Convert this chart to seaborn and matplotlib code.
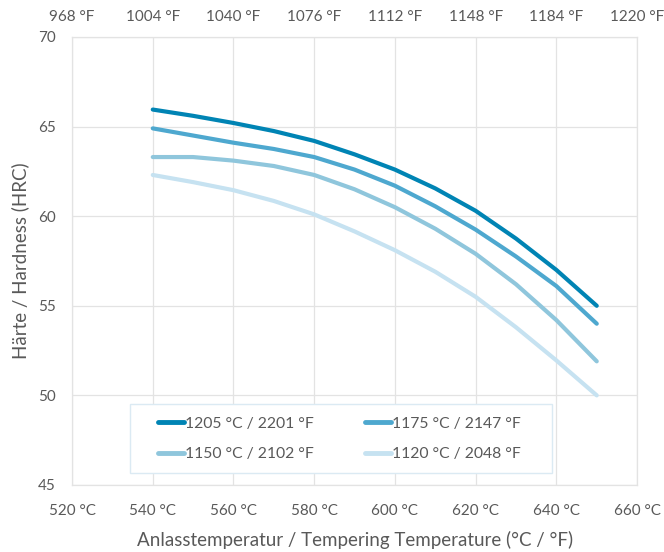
import matplotlib.pyplot as plt
import pandas as pd
import seaborn as sns
from matplotlib.patches import Rectangle

# Anlasstemperatur in °C
temps = [540, 550, 560, 570, 580, 590, 600, 610, 620, 630, 640, 650]

# Härte (HRC) je Härtetemperatur
hrc_1205 = [65.95, 65.6, 65.2, 64.75, 64.2, 63.45, 62.6, 61.55, 60.3, 58.75, 57.0, 55.0]
hrc_1175 = [64.9, 64.5, 64.1, 63.75, 63.3, 62.6, 61.7, 60.55, 59.25, 57.75, 56.1, 54.0]
hrc_1150 = [63.3, 63.3, 63.1, 62.8, 62.3, 61.5, 60.5, 59.3, 57.9, 56.2, 54.2, 51.9]
hrc_1120 = [62.3, 61.9, 61.45, 60.85, 60.1, 59.15, 58.1, 56.9, 55.5, 53.8, 51.95, 50.0]

series_labels = [
    "1205 °C / 2201 °F",
    "1175 °C / 2147 °F",
    "1150 °C / 2102 °F",
    "1120 °C / 2048 °F",
]
series_colors = ["#0084b4", "#4ea8cf", "#8fc6dc", "#c6e2f1"]

x_ticks_c = [520, 540, 560, 580, 600, 620, 640, 660]
x_ticks_f = [968, 1004, 1040, 1076, 1112, 1148, 1184, 1220]
y_ticks = [45, 50, 55, 60, 65, 70]

text_color = "#595959"
grid_color = "#e3e3e3"

rows = []
for label, values in zip(series_labels, [hrc_1205, hrc_1175, hrc_1150, hrc_1120]):
    for t, h in zip(temps, values):
        rows.append({"temp": t, "hrc": h, "series": label})
df = pd.DataFrame(rows)

sns.set_theme(style="white")
plt.rcParams["font.family"] = ["Lato", "DejaVu Sans"]

fig = plt.figure(figsize=(6.64, 5.52), dpi=100)
ax = fig.add_axes([0.1085, 0.1214, 0.851, 0.8116])

sns.lineplot(
    data=df,
    x="temp",
    y="hrc",
    hue="series",
    hue_order=series_labels,
    palette=dict(zip(series_labels, series_colors)),
    linewidth=3.0,
    ax=ax,
    solid_capstyle="round",
)

ax.set_xlim(520, 660)
ax.set_ylim(45, 70)
ax.set_xticks(x_ticks_c)
ax.set_xticklabels([f"{t} °C" for t in x_ticks_c])
ax.set_yticks(y_ticks)
ax.set_yticklabels([str(v) for v in y_ticks])
ax.grid(True, color=grid_color, linewidth=0.9)
ax.set_axisbelow(True)
for s in ax.spines.values():
    s.set_color(grid_color)
    s.set_linewidth(0.9)
ax.tick_params(axis="x", length=0, labelsize=11, colors=text_color, pad=14)
ax.tick_params(axis="y", length=0, labelsize=11, colors=text_color, pad=12)

ax.set_xlabel(
    "Anlasstemperatur / Tempering Temperature (°C / °F)",
    fontsize=13.5, color=text_color, labelpad=9,
)
ax.set_ylabel("Härte / Hardness (HRC)", fontsize=13.5, color=text_color, labelpad=6)

# obere Achse in °F
sec = ax.secondary_xaxis(
    "top", functions=(lambda c: c * 9 / 5 + 32, lambda f: (f - 32) * 5 / 9)
)
sec.set_xticks(x_ticks_f)
sec.set_xticklabels([f"{t} °F" for t in x_ticks_f])
sec.tick_params(length=0, labelsize=11, colors=text_color, pad=9)
for s in sec.spines.values():
    s.set_visible(False)

# Legendenrahmen separat (mehr Innenabstand links/rechts als oben/unten)
frame = Rectangle(
    (0.1027, 0.0275), 0.7469, 0.1533,
    transform=ax.transAxes, facecolor="white", edgecolor="#dbeaf3",
    linewidth=1.0, zorder=4,
)
ax.add_patch(frame)

# Legende zeilenweise wie im Original
handles, labels = ax.get_legend_handles_labels()
order = [0, 2, 1, 3]
leg = ax.legend(
    [handles[i] for i in order],
    [labels[i] for i in order],
    ncol=2,
    loc="center left",
    mode="expand",
    bbox_to_anchor=(0.1522, 0.1022, 0.6425, 0.0),
    borderaxespad=0,
    borderpad=0,
    frameon=False,
    fontsize=11.3,
    handlelength=1.65,
    handletextpad=0.08,
    labelspacing=1.05,
    columnspacing=2.0,
    labelcolor=text_color,
)
leg.set_zorder(5)
for line in leg.get_lines():
    line.set_linewidth(3.5)

fig.savefig("out.png", dpi=100)
plt.close(fig)
